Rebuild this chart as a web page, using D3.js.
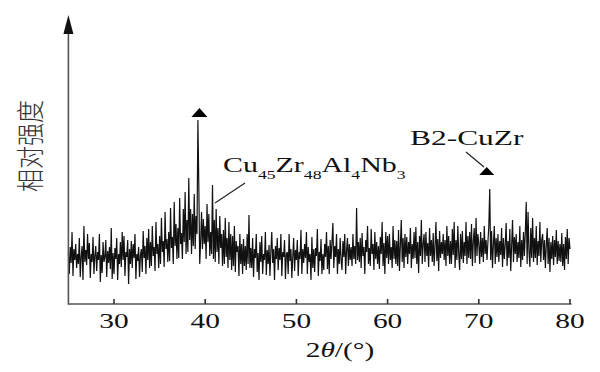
<!DOCTYPE html>
<html><head><meta charset="utf-8">
<script src="https://cdn.jsdelivr.net/npm/d3@7"></script>
<style>body{margin:0;background:#fff}</style>
</head><body>
<svg id="c" width="600" height="372"></svg>
<script>
// 2θ sampling grid: 25.0 .. 80.0 step 0.1
const angleStart = 25, angleStep = 0.1;
const intensity = [
 52,30,57,41,72,28,55,44,60,36,
 50,40,66,27,47,58,24,78,42,54,
 39,70,45,61,26,50,42,67,30,48,
 58,33,52,44,70,22,49,31,62,42,
 47,64,27,53,41,57,35,76,25,51,
 30,56,45,66,24,50,40,62,37,72,
 44,68,28,52,47,64,20,55,40,63,
 36,60,46,70,25,50,43,57,27,49,
 55,32,73,46,58,30,66,44,75,36,
 62,38,78,48,57,33,82,50,60,36,
 68,40,86,52,63,37,92,55,65,42,
 72,43,96,56,67,40,102,58,80,45,
 76,46,106,60,71,45,95,62,112,50,
 84,52,126,64,95,50,90,58,110,55,
 88,70,184,118,40,62,92,55,85,60,
 78,45,100,62,90,48,72,50,119,45,
 84,42,95,52,76,40,88,56,70,38,
 74,40,86,47,66,36,82,44,70,34,
 68,38,78,32,63,52,58,28,70,40,
 60,30,65,38,58,34,70,40,89,36,
 56,36,66,27,55,46,70,32,51,24,
 62,42,68,30,50,44,72,29,54,40,
 59,28,53,72,41,55,24,58,45,66,
 34,56,44,70,28,52,47,64,25,50,
 52,30,70,43,55,26,47,66,33,54,
 44,64,28,52,45,74,30,55,41,60,
 46,72,30,57,42,50,24,67,36,55,
 32,56,48,75,28,52,43,65,30,50,
 34,60,47,72,35,58,30,64,45,62,
 81,36,58,47,70,30,55,40,66,44,
 34,63,47,70,30,54,66,38,60,44,
 57,38,70,45,58,40,96,44,62,42,
 66,36,71,48,57,30,64,52,78,40,
 56,38,75,50,60,34,72,45,62,40,
 58,35,67,50,82,38,61,30,72,46,
 68,40,70,44,57,36,78,45,64,40,
 63,38,74,33,59,84,42,66,36,70,
 47,67,40,62,50,76,36,60,45,72,
 46,77,40,62,31,68,48,84,40,60,
 70,42,72,48,61,37,76,48,64,42,
 71,38,58,82,43,65,33,73,46,62,
 50,70,44,64,38,78,48,68,40,63,
 40,75,49,82,36,64,44,78,50,34,
 70,45,73,41,62,48,82,40,68,46,
 72,45,80,38,63,76,41,86,48,70,
 60,40,72,47,66,42,78,50,64,44,
 62,78,115,44,73,36,60,78,40,66,
 47,70,42,63,49,76,37,66,45,60,
 81,38,63,46,75,33,58,84,42,67,
 50,70,42,62,46,78,37,64,44,72,
 48,72,102,40,92,53,37,76,46,86,
 42,66,46,78,39,63,48,82,42,64,
 70,44,64,36,59,76,40,66,32,62,
 45,68,39,64,47,74,40,63,43,60,
 42,71,38,60,34,67,45,75,40,66,
 55
];
const xTicks = [30,40,50,60,70,80];
const yLabel = "相对强度";
const xLabelParts = ["2", "θ", "/(°)"];
const peakMain = 39.2, peakB2 = 71.2;

const data = intensity.map((v,i)=>({a: +(angleStart + i*angleStep).toFixed(2), v}));

const svg = d3.select("#c");
const x = d3.scaleLinear().domain([25,80]).range([68.4,570]);
const y = d3.scaleLinear().domain([0,290]).range([304,14]);
const SX = 1.4;
const serif = "'Liberation Serif','Times New Roman',serif";

// trace
svg.append("path").datum(data)
  .attr("fill","none").attr("stroke","#111").attr("stroke-width",1.2)
  .attr("d", d3.line().x(d=>x(d.a)).y(d=>y(d.v)));

// axes
const ax = "#555";
svg.append("line").attr("x1",x(25)).attr("x2",x(80)+1.5).attr("y1",y(0)).attr("y2",y(0))
  .attr("stroke",ax).attr("stroke-width",1.6);
svg.append("line").attr("x1",x(25)).attr("x2",x(25)).attr("y1",y(0)+0.8).attr("y2",y(271))
  .attr("stroke",ax).attr("stroke-width",1.6);
svg.append("path").attr("d",`M${x(25)-5},${y(270)}L${x(25)+5},${y(270)}L${x(25)},${y(289)}Z`).attr("fill","#111");

const g = svg.append("g");
xTicks.forEach(t=>{
  g.append("line").attr("x1",x(t)).attr("x2",x(t)).attr("y1",y(0)).attr("y2",y(0)-5)
    .attr("stroke","#333").attr("stroke-width",1.6);
  g.append("text").attr("transform",`translate(${x(t)},328) scale(${SX},1)`)
    .attr("text-anchor","middle").attr("font-family",serif).attr("font-size",21)
    .attr("fill","#111").text(t);
});

// x label
const xl = svg.append("text").attr("transform",`translate(340,357) scale(${SX},1)`)
  .attr("text-anchor","middle").attr("font-family",serif).attr("font-size",21).attr("fill","#111");
xl.append("tspan").text(xLabelParts[0]);
xl.append("tspan").attr("font-style","italic").text(xLabelParts[1]);
xl.append("tspan").text(xLabelParts[2]);

// y label
svg.append("text").attr("transform","translate(28,146) scale(1.25,1) rotate(-90)")
  .attr("text-anchor","middle").attr("dominant-baseline","central")
  .attr("font-family","'Noto Sans CJK SC',sans-serif").attr("font-weight",300)
  .attr("font-size",23).attr("fill","#333").text(yLabel);

// peak markers
function tri(cx, base, w, h){
  svg.append("path").attr("d",`M${cx-w/2},${base}L${cx+w/2},${base}L${cx},${base-h}Z`).attr("fill","#000");
}
tri(x(peakMain)+1.5, 117, 16, 9);
tri(x(peakB2)-3, 175, 15, 8);

// labels
const cu = svg.append("text").attr("transform",`translate(223,172) scale(1.36,1)`)
  .attr("font-family",serif).attr("font-size",22).attr("fill","#111");
[["Cu",0],["45",1],["Zr",0],["48",1],["Al",0],["4",1],["Nb",0],["3",1]].forEach(([s,sub])=>{
  const ts = cu.append("tspan").text(s);
  if(sub) ts.attr("font-size",13).attr("dy",7); else ts.attr("dy", s==="Cu"?0:-7);
});
svg.append("line").attr("x1",245).attr("y1",183).attr("x2",215).attr("y2",203).attr("stroke","#222").attr("stroke-width",1.2);

svg.append("text").attr("transform",`translate(410,145) scale(1.43,1)`)
  .attr("font-family",serif).attr("font-size",22).attr("fill","#111").text("B2-CuZr");
svg.append("line").attr("x1",466).attr("y1",152).attr("x2",484).attr("y2",167).attr("stroke","#222").attr("stroke-width",1.2);
</script>
</body></html>
